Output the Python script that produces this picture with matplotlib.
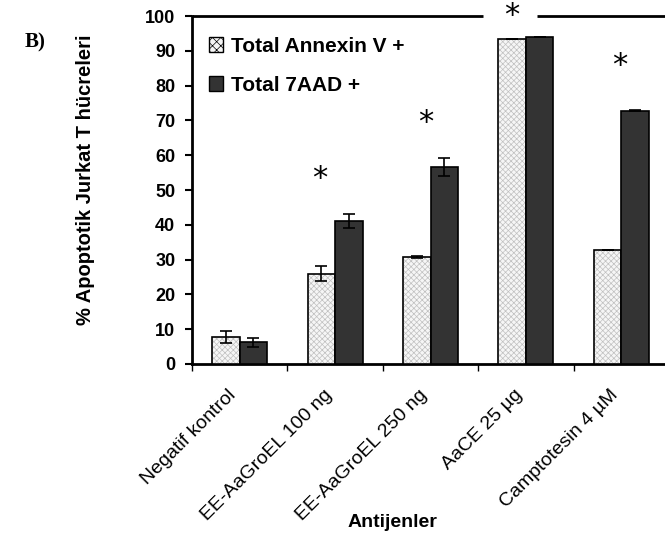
"""Apoptotic Jurkat T cells per antigen (panel B) as grouped bars."""

import matplotlib

matplotlib.use("Agg")
import matplotlib.pyplot as plt
import matplotlib.transforms as mtransforms
import numpy as np
from matplotlib.patches import Rectangle

CATEGORIES = [
    "Negatif kontrol",
    "EE-AaGroEL 100 ng",
    "EE-AaGroEL 250 ng",
    "AaCE 25 µg",
    "Camptotesin 4 µM",
]
ANNEXIN = [7.8, 26.0, 30.8, 93.5, 32.8]
ANNEXIN_ERR = [1.7, 2.2, 0.2, 0.0, 0.0]
AAD7 = [6.3, 41.0, 56.5, 94.0, 72.8]
AAD7_ERR = [1.3, 2.0, 2.6, 0.0, 0.2]
SERIES_LABELS = ["Total Annexin V +", "Total 7AAD +"]

# significance marks: category index, x shift, top of the mark
STAR_IDX = [1, 2, 3, 4]
STAR_SHIFT = [-0.16, -0.05, -0.15, -0.02]
STAR_TOP = [57.5, 73.5, 104.3, 89.8]

SANS = ["Liberation Sans", "DejaVu Sans"]
LIGHT = "#f6f6f6"
HATCH_GREY = "#c0c0c0"
DARK = "#333333"


def main() -> None:
    plt.rcParams["font.family"] = SANS
    plt.rcParams["hatch.linewidth"] = 0.5

    fig = plt.figure(figsize=(6.65, 5.44), dpi=100)
    ax = fig.add_axes([192 / 665, 180 / 544, 477 / 665, 348 / 544])

    x = np.arange(len(CATEGORIES))
    width = 0.288
    xl = x - width / 2
    xd = x + width / 2
    xmax = len(CATEGORIES) - 0.5

    # hatched light bars: fill + grey hatch, then a black outline on top
    ax.bar(xl, ANNEXIN, width, color=LIGHT, edgecolor=HATCH_GREY,
           hatch="xxxxxx", linewidth=0, zorder=4)
    ax.bar(xl, ANNEXIN, width, fill=False, edgecolor="black",
           linewidth=1.2, zorder=4)
    ax.bar(xd, AAD7, width, color=DARK, edgecolor="black",
           linewidth=1.2, zorder=4)

    ax.errorbar(xl, ANNEXIN, yerr=ANNEXIN_ERR, fmt="none", ecolor="black",
                elinewidth=1.2, capsize=4.5, capthick=1.2, zorder=5)
    ax.errorbar(xd, AAD7, yerr=AAD7_ERR, fmt="none", ecolor="black",
                elinewidth=1.2, capsize=4.5, capthick=1.2, zorder=5)

    gap_x = None
    for i, dx, top in zip(STAR_IDX, STAR_SHIFT, STAR_TOP):
        if top > 100:
            gap_x = i + dx
        ax.text(i + dx, top, "*", ha="center", va="top", fontsize=22,
                family="DejaVu Sans", clip_on=False, zorder=3)

    ax.set_xlim(-0.5, xmax)
    ax.set_ylim(0, 100)

    # top frame line, broken where the mark above the axes sits
    ax.spines["top"].set_visible(False)
    if gap_x is None:
        ax.hlines(100, -0.5, xmax, color="black", lw=2.0, clip_on=False)
    else:
        ax.hlines([100, 100], [-0.5, gap_x + 0.27], [gap_x - 0.3, xmax],
                  color="black", lw=2.0, clip_on=False, zorder=2.5)

    ax.set_yticks(range(0, 101, 10))
    for lab in ax.set_yticklabels([str(v) for v in range(0, 101, 10)]):
        lab.set_fontweight("bold")
    ax.tick_params(axis="y", direction="out", length=5, width=1.5,
                   labelsize=13, pad=7)

    ax.set_xticks(np.arange(len(CATEGORIES) + 1) - 0.5)
    ax.set_xticklabels([])
    ax.tick_params(axis="x", which="major", direction="out", length=5, width=1.0)
    ax.set_xticks(x, minor=True)
    labels = ax.set_xticklabels(CATEGORIES, minor=True, fontsize=14)
    ax.tick_params(axis="x", which="minor", length=0, pad=16)
    shift = mtransforms.ScaledTranslation(-12 / 100, 0, fig.dpi_scale_trans)
    for lab in labels:
        lab.set_rotation(45)
        lab.set_ha("right")
        lab.set_rotation_mode("anchor")
        lab.set_transform(lab.get_transform() + shift)

    for side in ["left", "bottom", "right"]:
        ax.spines[side].set_linewidth(2.0)

    ax.set_ylabel("% Apoptotik Jurkat T hücreleri", fontsize=14.5,
                  fontweight="bold")
    ax.yaxis.set_label_coords(-0.203, 0.53)
    ax.set_xlabel("Antijenler", fontsize=14, fontweight="bold")
    ax.xaxis.set_label_coords(0.42, -0.43)

    handles = [
        Rectangle((0, 0), 1, 1, facecolor=LIGHT, edgecolor="black",
                  hatch="xxxx", linewidth=1.0),
        Rectangle((0, 0), 1, 1, facecolor=DARK, edgecolor="black",
                  linewidth=1.0),
    ]
    ax.legend(handles, SERIES_LABELS, loc="upper left",
              bbox_to_anchor=(0.035, 0.94), frameon=False, borderpad=0,
              borderaxespad=0, handlelength=0.7, handleheight=0.7,
              handletextpad=0.35, labelspacing=0.95,
              prop={"weight": "bold", "size": 15, "family": SANS})

    fig.text(25 / 665, 1 - 42 / 544, "B)", fontsize=15, fontweight="bold",
             family="Liberation Serif", va="center")

    fig.savefig("out.png", dpi=100)
    plt.close(fig)


if __name__ == "__main__":
    main()
